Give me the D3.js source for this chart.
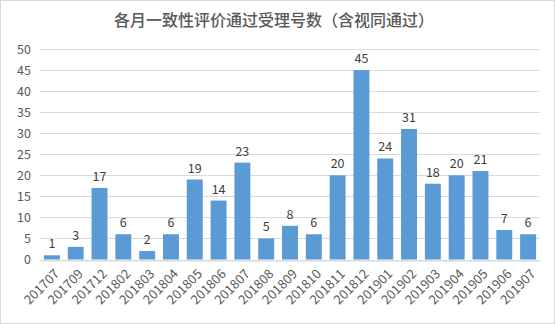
<!DOCTYPE html>
<html><head><meta charset="utf-8">
<script src="https://cdn.jsdelivr.net/npm/d3@7"></script>
<style>body{margin:0;background:#fff}svg{display:block}</style>
</head><body>
<script>
const categories = ["201707","201709","201712","201802","201803","201804","201805","201806","201807","201808","201809","201810","201811","201812","201901","201902","201903","201904","201905","201906","201907"];
const values = [1,3,17,6,2,6,19,14,23,5,8,6,20,45,24,31,18,20,21,7,6];
const yTicks = [0,5,10,15,20,25,30,35,40,45,50];
const title = "各月一致性评价通过受理号数（含视同通过）";

const W=555,H=324;
const m={l:40,r:15,t:49,b:64};
const svg=d3.select("body").append("svg").attr("width",W).attr("height",H);
svg.append("rect").attr("x",0.5).attr("y",0.5).attr("width",W-1).attr("height",H-1).attr("fill","#fff").attr("stroke","#d9d9d9");
const font="'Microsoft YaHei','Noto Sans CJK SC',sans-serif";
svg.append("text").attr("x",274).attr("y",26).attr("text-anchor","middle").attr("font-family",font).attr("font-size",16).attr("font-weight",500).attr("fill","#595959").text(title);

const x=d3.scaleBand().domain(categories).range([m.l,W-m.r]).paddingInner(0.33).paddingOuter(0.165);
const y=d3.scaleLinear().domain([0,50]).range([259.5,49]);

const g=svg.append("g");
g.selectAll("line.grid").data(yTicks).join("line").attr("class","grid")
 .attr("x1",m.l).attr("x2",W-m.r).attr("y1",d=>Math.round(y(d))+0.5).attr("y2",d=>Math.round(y(d))+0.5)
 .attr("stroke","#d9d9d9").attr("stroke-width",1);

const ya=d3.axisLeft(y).tickValues(yTicks).tickSize(0).tickPadding(8);
svg.append("g").attr("transform",`translate(${m.l},0)`).call(ya)
 .call(s=>s.select(".domain").remove())
 .selectAll("text").attr("font-family",font).attr("font-size",12.5).attr("fill","#595959").attr("text-anchor","end").attr("x",-9);

g.selectAll("rect.bar").data(values).join("rect").attr("class","bar")
 .attr("x",(d,i)=>x(categories[i])).attr("width",x.bandwidth())
 .attr("y",d=>y(d)).attr("height",d=>y(0)-y(d)).attr("fill","#5B9BD5");

g.selectAll("text.lbl").data(values).join("text").attr("class","lbl")
 .attr("x",(d,i)=>x(categories[i])+x.bandwidth()/2).attr("y",d=>y(d)-7)
 .attr("text-anchor","middle").attr("font-family",font).attr("font-size",12.5).attr("fill","#404040").text(d=>d);

const xa=d3.axisBottom(x).tickSize(0).tickPadding(0);
const xg=svg.append("g").attr("transform",`translate(0,${Math.round(y(0))+0.5})`).call(xa);
xg.select(".domain").attr("stroke","#d9d9d9");
xg.selectAll("text").attr("font-family",font).attr("font-size",13).attr("fill","#595959")
 .attr("text-anchor","end").attr("dy","0.35em").attr("y",0)
 .attr("transform","translate(5,11) rotate(-45)");
</script>
</body></html>
